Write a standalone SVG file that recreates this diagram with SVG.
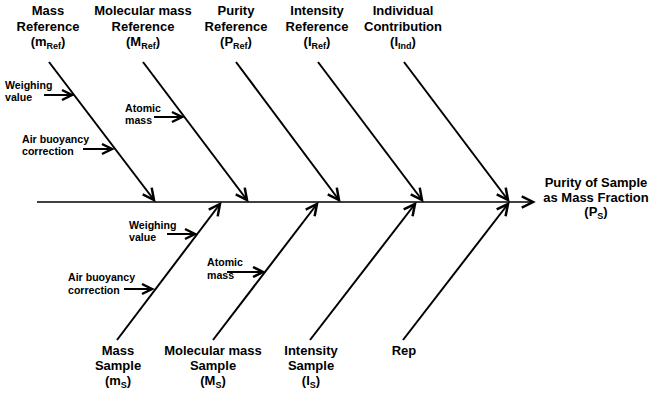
<svg xmlns="http://www.w3.org/2000/svg" width="650" height="395" viewBox="0 0 650 395">
<style>
text{font-family:"Liberation Sans",Arial,sans-serif;font-weight:bold;fill:#000}
.lbl{font-size:13px;text-anchor:middle}
.sm{font-size:10.6px}
.sub{font-size:9px}
.br{stroke:#000;stroke-width:2;fill:none}
.sp{stroke:#000;stroke-width:1.6;fill:none}
.ar{stroke:#000;stroke-width:2;fill:none}
</style>
<defs>
<marker id="h" markerUnits="userSpaceOnUse" markerWidth="20" markerHeight="20" viewBox="-12 -8 16 16" refX="0" refY="0" orient="auto">
<path d="M-9,-4.5 L0,0 L-9,4.5" fill="none" stroke="#000" stroke-width="2"/>
</marker>
<marker id="hs" markerUnits="userSpaceOnUse" markerWidth="20" markerHeight="20" viewBox="-12 -8 16 16" refX="0" refY="0" orient="auto">
<path d="M-8,-4 L0,0 L-8,4" fill="none" stroke="#000" stroke-width="2"/>
</marker>
</defs>
<g id="connectors">
<line class="sp" x1="37" y1="202" x2="533" y2="202" marker-end="url(#h)"/>
<line class="br" x1="49" y1="62" x2="154" y2="200" marker-end="url(#h)"/>
<line class="br" x1="143" y1="62" x2="247" y2="200" marker-end="url(#h)"/>
<line class="br" x1="236" y1="62" x2="339" y2="200" marker-end="url(#h)"/>
<line class="br" x1="318" y1="62" x2="422" y2="200" marker-end="url(#h)"/>
<line class="br" x1="404" y1="62" x2="508" y2="200" marker-end="url(#h)"/>
<line class="br" x1="117" y1="340" x2="220" y2="204" marker-end="url(#h)"/>
<line class="br" x1="213" y1="340" x2="317" y2="204" marker-end="url(#h)"/>
<line class="br" x1="310" y1="340" x2="415" y2="204" marker-end="url(#h)"/>
<line class="br" x1="403" y1="340" x2="508" y2="204" marker-end="url(#h)"/>
<line class="ar" x1="44" y1="95" x2="72" y2="95" marker-end="url(#hs)"/>
<line class="ar" x1="83" y1="149" x2="112" y2="149" marker-end="url(#hs)"/>
<line class="ar" x1="154" y1="117" x2="182" y2="117" marker-end="url(#hs)"/>
<line class="ar" x1="167" y1="234" x2="195" y2="234" marker-end="url(#hs)"/>
<line class="ar" x1="124" y1="289" x2="152" y2="289" marker-end="url(#hs)"/>
<line class="ar" x1="227" y1="272" x2="263" y2="272" marker-end="url(#hs)"/>
</g>
<g id="mass-ref">
<text class="lbl" x="48" y="15">Mass</text>
<text class="lbl" x="48" y="31">Reference</text>
<text class="lbl" x="48" y="46">(m<tspan class="sub" dy="3">Ref</tspan><tspan dy="-3">)</tspan></text>
</g>
<g id="molmass-ref">
<text class="lbl" x="143" y="15">Molecular mass</text>
<text class="lbl" x="143" y="31">Reference</text>
<text class="lbl" x="143" y="46">(M<tspan class="sub" dy="3">Ref</tspan><tspan dy="-3">)</tspan></text>
</g>
<g id="purity-ref">
<text class="lbl" x="236" y="15">Purity</text>
<text class="lbl" x="236" y="31">Reference</text>
<text class="lbl" x="236" y="46">(P<tspan class="sub" dy="3">Ref</tspan><tspan dy="-3">)</tspan></text>
</g>
<g id="intensity-ref">
<text class="lbl" x="317" y="15">Intensity</text>
<text class="lbl" x="317" y="31">Reference</text>
<text class="lbl" x="317" y="46">(I<tspan class="sub" dy="3">Ref</tspan><tspan dy="-3">)</tspan></text>
</g>
<g id="individual">
<text class="lbl" x="403" y="15">Individual</text>
<text class="lbl" x="403" y="31">Contribution</text>
<text class="lbl" x="403" y="46">(I<tspan class="sub" dy="3">Ind</tspan><tspan dy="-3">)</tspan></text>
</g>
<g id="result">
<text class="lbl" x="596" y="187">Purity of Sample</text>
<text class="lbl" x="596" y="202">as Mass Fraction</text>
<text class="lbl" x="596" y="216">(P<tspan class="sub" dy="3">S</tspan><tspan dy="-3">)</tspan></text>
</g>
<g id="mass-sample">
<text class="lbl" x="118" y="355">Mass</text>
<text class="lbl" x="118" y="370">Sample</text>
<text class="lbl" x="118" y="385">(m<tspan class="sub" dy="3">S</tspan><tspan dy="-3">)</tspan></text>
</g>
<g id="molmass-sample">
<text class="lbl" x="213" y="355">Molecular mass</text>
<text class="lbl" x="213" y="370">Sample</text>
<text class="lbl" x="213" y="385">(M<tspan class="sub" dy="3">S</tspan><tspan dy="-3">)</tspan></text>
</g>
<g id="intensity-sample">
<text class="lbl" x="311" y="355">Intensity</text>
<text class="lbl" x="311" y="370">Sample</text>
<text class="lbl" x="311" y="385">(I<tspan class="sub" dy="3">S</tspan><tspan dy="-3">)</tspan></text>
</g>
<g id="rep">
<text class="lbl" x="404" y="355">Rep</text>
</g>
<g id="weighing-ref">
<text class="sm" x="5" y="89">Weighing</text>
<text class="sm" x="5" y="101">value</text>
</g>
<g id="air-ref">
<text class="sm" x="22" y="143">Air buoyancy</text>
<text class="sm" x="22" y="155">correction</text>
</g>
<g id="atomic-ref">
<text class="sm" x="125" y="112">Atomic</text>
<text class="sm" x="125" y="124">mass</text>
</g>
<g id="weighing-sample">
<text class="sm" x="129" y="229">Weighing</text>
<text class="sm" x="129" y="241">value</text>
</g>
<g id="air-sample">
<text class="sm" x="68" y="281">Air buoyancy</text>
<text class="sm" x="68" y="294">correction</text>
</g>
<g id="atomic-sample">
<text class="sm" x="207" y="266">Atomic</text>
<text class="sm" x="207" y="279">mass</text>
</g>
</svg>
